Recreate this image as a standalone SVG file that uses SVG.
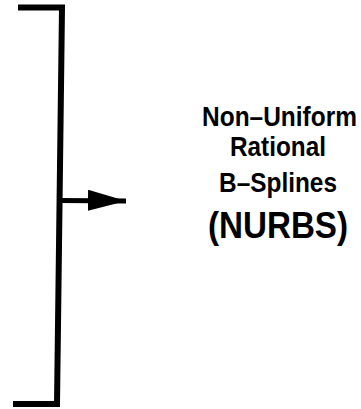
<svg xmlns="http://www.w3.org/2000/svg" width="361" height="409" viewBox="0 0 361 409">
<style>
.ln{fill:none;stroke:#000;stroke-width:6;stroke-linejoin:miter;stroke-linecap:butt}
.t{font-family:"Liberation Sans",Arial,sans-serif;font-weight:bold;fill:#000;text-anchor:middle}
</style>
<defs>
<marker id="ah" markerUnits="userSpaceOnUse" markerWidth="40" markerHeight="24" refX="38" refY="11" orient="auto">
<path d="M0,0 L38,11 L0,21 Z" fill="#000"/>
</marker>
</defs>
<rect width="361" height="409" fill="#fff"/>
<g id="bracket">
<path class="ln" d="M18,7.5 L62,7.5 L57,404 L13,404"/>
</g>
<g id="connectors">
<line class="ln" x1="60" y1="200.5" x2="126" y2="201" marker-end="url(#ah)" style="stroke-width:5"/>
</g>
<g id="label">
<text class="t" transform="translate(279.5,125.5) scale(0.906,1)" font-size="27">Non–Uniform</text>
<text class="t" transform="translate(278,156) scale(0.901,1)" font-size="27">Rational</text>
<text class="t" transform="translate(278,192) scale(0.871,1)" font-size="28">B–Splines</text>
<text class="t" transform="translate(278,238) scale(0.897,1)" font-size="37">(NURBS)</text>
</g>
</svg>
